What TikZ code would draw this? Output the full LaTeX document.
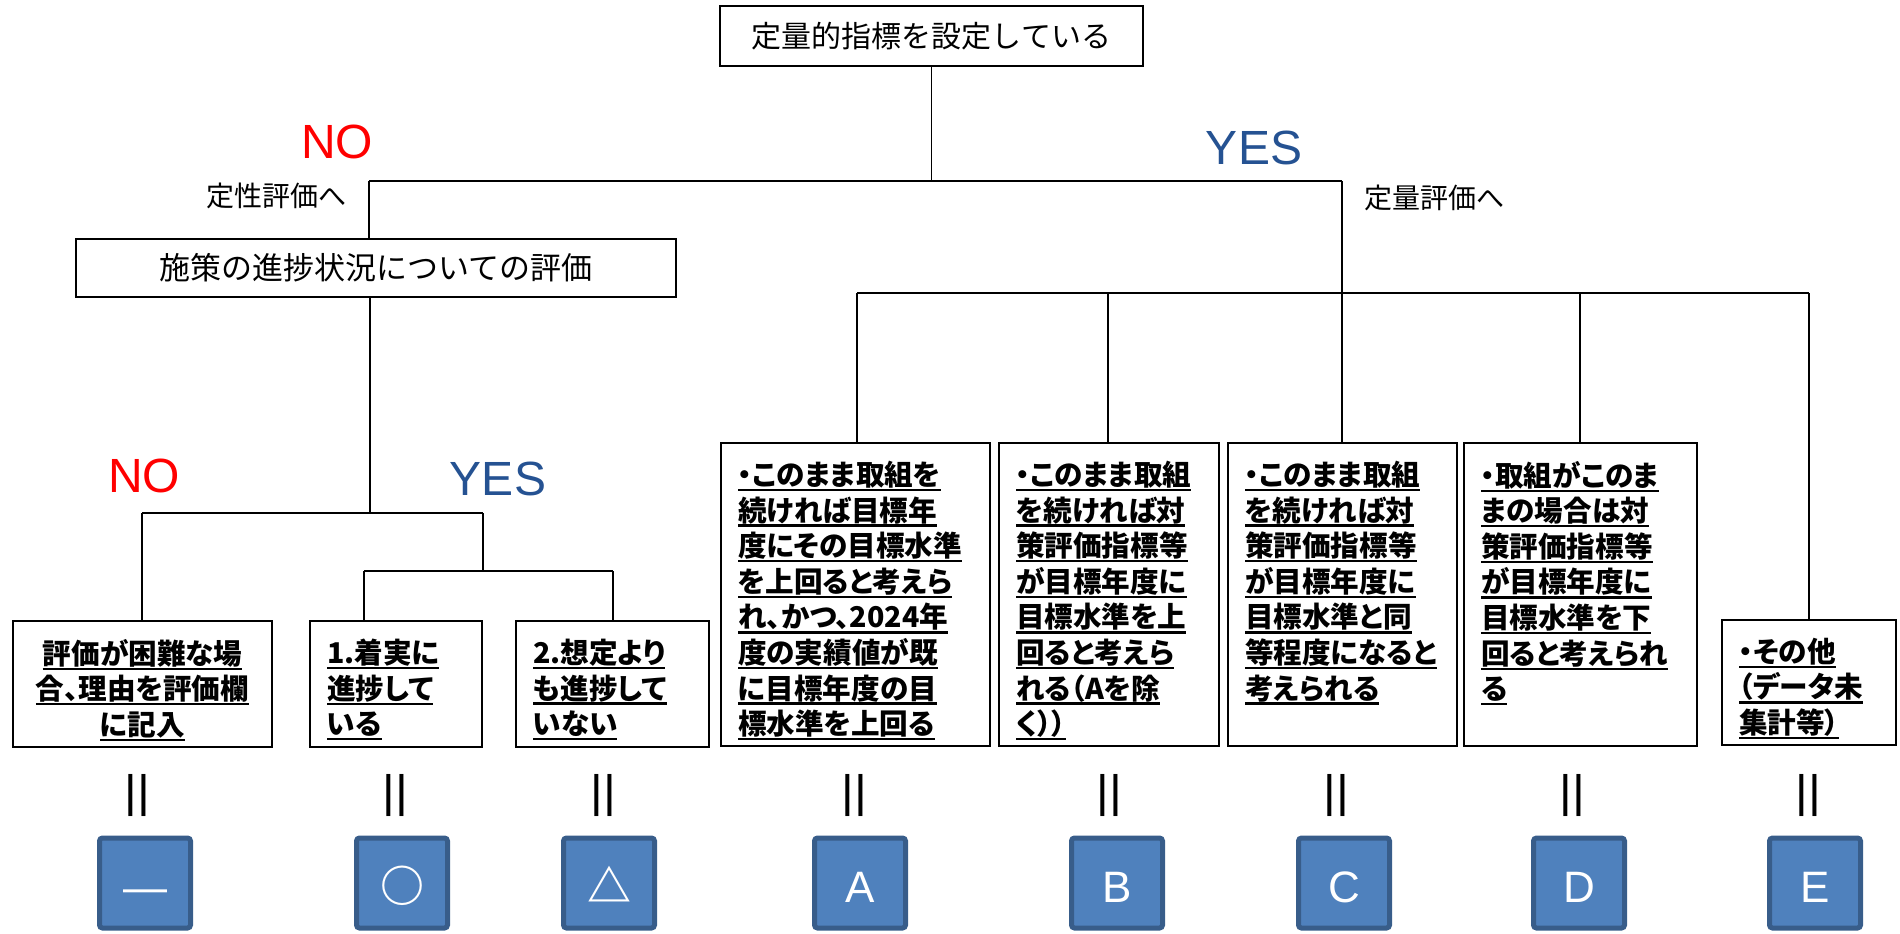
\documentclass[tikz,border=0pt]{standalone}
\usepackage{fontspec}
\setmainfont{Liberation Sans}
\newfontfamily\jp{Noto Sans CJK JP}
\newfontfamily\jpp[RawFeature=+palt]{Noto Sans CJK JP}
\definecolor{yesblue}{HTML}{255292}
\definecolor{gfill}{HTML}{4F81BD}
\definecolor{gline}{HTML}{385D8A}
\newcommand\myul[1]{\leavevmode\setbox0=\hbox{#1}\rlap{\rule[-0.2em]{\wd0}{0.08em}}\box0}
\newcommand\btxt[3]{\parbox[c][#2][t]{#1}{\jpp\bfseries\fontsize{14.3}{17.8}\selectfont #3}}
\tikzset{
  tbox/.style={draw, line width=1pt, inner sep=0pt},
  cbox/.style={draw, line width=1pt, inner xsep=8.5pt, inner ysep=9pt, anchor=north west},
  conn/.style={line width=0.75pt},
  nolab/.style={text=red, font=\fontsize{24}{28}\selectfont, inner sep=0pt},
  yeslab/.style={text=yesblue, font=\fontsize{24}{28}\selectfont, inner sep=0pt},
  sublab/.style={font=\jp\fontsize{14}{16}\selectfont, inner sep=0pt},
  eqmark/.style={font=\jp\fontsize{29}{31}\selectfont, rotate=90, inner sep=0pt},
  grade/.style={fill=gfill, draw=gline, line width=2.5pt, minimum width=45.5pt, minimum height=45pt,
    rounded corners=1.5pt, text=white, font=\fontsize{22}{24}\selectfont,
    text height=19.75pt, text depth=0pt, inner sep=0pt},
}
\begin{document}
\begin{tikzpicture}[x=0.5pt,y=-0.5pt]
\useasboundingbox (0,0) rectangle (1900,933);
% main boxes
\node[tbox, minimum width=211.5pt, minimum height=30pt, font=\jp\fontsize{15}{18}\selectfont] (top) at (931.5,36) {定量的指標を設定している};
\node[tbox, minimum width=300pt, minimum height=29pt, font=\jp\fontsize{15.5}{18}\selectfont] (ses) at (376,268) {施策の進捗状況についての評価};
% labels
\node[nolab] (no1) at (337,142) {NO};
\node[yeslab] (yes1) at (1254,148) {YES};
\node[sublab] (qual) at (276,196) {定性評価へ};
\node[sublab] (quan) at (1434,198) {定量評価へ};
\node[nolab] (no2) at (144,476) {NO};
\node[yeslab] (yes2) at (498,479) {YES};
% bottom-left boxes
\node[cbox] (b1) at (12,620) {\btxt{112.5pt}{45pt}{\centering\myul{評価が困難な場}\\\myul{合、理由を評価欄}\\\myul{に記入}}};
\node[cbox] (b2) at (309,620) {\btxt{69pt}{45pt}{\myul{1.着実に}\\\myul{進捗して}\\\myul{いる}}};
\node[cbox] (b3) at (515,620) {\btxt{79.5pt}{45pt}{\myul{2.想定より}\\\myul{も進捗して}\\\myul{いない}}};
% quantitative boxes
\node[cbox] (bA) at (720,442) {\btxt{117.5pt}{133.5pt}{\myul{・このまま取組を}\\\myul{続ければ目標年}\\\myul{度にその目標水準}\\\myul{を上回ると考えら}\\\myul{れ、かつ、2024年}\\\myul{度の実績値が既}\\\myul{に目標年度の目}\\\myul{標水準を上回る}}};
\node[cbox] (bB) at (998,442) {\btxt{93pt}{133.5pt}{\myul{・このまま取組}\\\myul{を続ければ対}\\\myul{策評価指標等}\\\myul{が目標年度に}\\\myul{目標水準を上}\\\myul{回ると考えら}\\\myul{れる（Aを除}\\\myul{く））}}};
\node[cbox] (bC) at (1227,442) {\btxt{97.5pt}{133.5pt}{\myul{・このまま取組}\\\myul{を続ければ対}\\\myul{策評価指標等}\\\myul{が目標年度に}\\\myul{目標水準と同}\\\myul{等程度になると}\\\myul{考えられる}}};
\node[cbox] (bD) at (1463,442) {\btxt{99.5pt}{133.5pt}{\myul{・取組がこのま}\\\myul{まの場合は対}\\\myul{策評価指標等}\\\myul{が目標年度に}\\\myul{目標水準を下}\\\myul{回ると考えられ}\\\myul{る}}};
\node[cbox] (bE) at (1721,619) {\btxt{70pt}{44.5pt}{\myul{・その他}\\\myul{（データ未}\\\myul{集計等）}}};
% junction coordinates
\coordinate (jL) at (369,181);
\coordinate (jR) at (1342,181);
\coordinate (busL) at (857,293);
\coordinate (busR) at (1809,293);
\coordinate (dB) at (1108,293);
\coordinate (dC) at (1342,293);
\coordinate (dD) at (1580,293);
\coordinate (sd) at (370,513);
\coordinate (n1) at (142,513);
\coordinate (n2) at (483,513);
\coordinate (m1) at (364,571);
\coordinate (m2) at (613,571);
% connectors
\draw[conn] (top.south) -- (top.south |- jL);
\draw[conn] (jL) -- (jR);
\draw[conn] (jL) -- (jL |- ses.north);
\draw[conn] (jR) -- (dC);
\draw[conn] (busL) -- (busR);
\draw[conn] (busL) -- (busL |- bA.north);
\draw[conn] (dB) -- (dB |- bB.north);
\draw[conn] (dC) -- (dC |- bC.north);
\draw[conn] (dD) -- (dD |- bD.north);
\draw[conn] (busR) -- (busR |- bE.north);
\draw[conn] (sd |- ses.south) -- (sd);
\draw[conn] (n1) -- (n2);
\draw[conn] (n1) -- (n1 |- b1.north);
\draw[conn] (n2) -- (n2 |- m1);
\draw[conn] (m1) -- (m2);
\draw[conn] (m1) -- (m1 |- b2.north);
\draw[conn] (m2) -- (m2 |- b3.north);
% equal marks
\foreach \x/\n in {144/e1,402/e2,610/e3,861/eA,1116/eB,1343/eC,1579/eD,1815/eE}
  \node[eqmark] (\n) at (\x,795) {＝};
% grades
\node[grade] (g1) at (145,883) {—};
\node[grade] (g2) at (402,883) {{\jp\bfseries ○}};
\node[grade] (g3) at (609,883) {{\jp\bfseries △}};
\node[grade] (gA) at (860,883) {A};
\node[grade] (gB) at (1117,883) {B};
\node[grade] (gC) at (1344,883) {C};
\node[grade] (gD) at (1579,883) {D};
\node[grade] (gE) at (1815,883) {E};
\end{tikzpicture}
\end{document}
